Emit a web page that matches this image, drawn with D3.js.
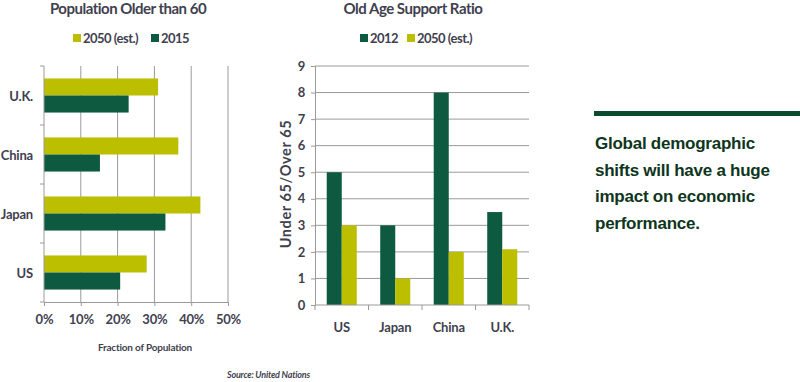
<!DOCTYPE html>
<html>
<head>
<meta charset="utf-8">
<script src="https://cdn.jsdelivr.net/npm/d3@7"></script>
<style>
	body { margin: 0; background: #fff; }
	svg text { font-family: Lato, 'Open Sans', sans-serif; fill: #3f3f4f; letter-spacing: -0.2px; }
</style>
</head>
<body>
<script>
// Data: population older than 60 (fraction)
const popCountries = ['U.K.', 'China', 'Japan', 'US']
const pop2050 = [0.31, 0.365, 0.425, 0.279]
const pop2015 = [0.23, 0.152, 0.33, 0.207]
const popTicks = [0, 0.1, 0.2, 0.3, 0.4, 0.5]

// Data: old age support ratio
const ratioCountries = ['US', 'Japan', 'China', 'U.K.']
const ratio2012 = [5, 3, 8, 3.5]
const ratio2050 = [3, 1, 2, 2.1]
const ratioTicks = [0, 1, 2, 3, 4, 5, 6, 7, 8, 9]

const dark = '#0e5a41'
const lime = '#bbbf00'
const grid = '#9a9a9a'

const svg = d3.select('body').append('svg').attr('width', 800).attr('height', 382)

// ---------- left chart ----------
const xPop = d3.scaleLinear().domain([0, 0.5]).range([44, 228])
const yPop = d3.scaleBand().domain(popCountries).range([66, 302])
const ySub = d3.scaleBand().domain(['2050', '2015']).range([0, yPop.bandwidth()]).paddingOuter(0.73)

const left = svg.append('g')

left.append('text').attr('x', 128).attr('y', 14).attr('text-anchor', 'middle')
	.style('font-size', '15px').style('font-weight', 'bold').style('letter-spacing', '-0.5px')
	.text('Population Older than 60')

// legend
const legL = [{ label: '2050 (est.)', color: lime, x: 73 }, { label: '2015', color: dark, x: 151 }]
legL.forEach(d => {
	left.append('rect').attr('x', d.x).attr('y', 34).attr('width', 8).attr('height', 8).attr('fill', d.color)
	left.append('text').attr('x', d.x + 10).attr('y', 43).style('font-size', '13px').style('font-weight', 'bold')
		.style('letter-spacing', '-0.5px').text(d.label)
})

// gridlines
left.selectAll('.vgrid').data(popTicks.slice(1)).join('line')
	.attr('x1', d => xPop(d)).attr('x2', d => xPop(d))
	.attr('y1', 66).attr('y2', 302).attr('stroke', grid)

const popData = popCountries.map((c, i) => ({ c, v2050: pop2050[i], v2015: pop2015[i] }))
left.selectAll('.b50').data(popData).join('rect')
	.attr('x', xPop(0)).attr('y', d => yPop(d.c) + ySub('2050'))
	.attr('width', d => xPop(d.v2050) - xPop(0)).attr('height', ySub.bandwidth())
	.attr('fill', lime)
left.selectAll('.b15').data(popData).join('rect')
	.attr('x', xPop(0)).attr('y', d => yPop(d.c) + ySub('2015'))
	.attr('width', d => xPop(d.v2015) - xPop(0)).attr('height', ySub.bandwidth())
	.attr('fill', dark)

// x axis
const xAxisL = left.append('g').attr('transform', 'translate(0,302)')
	.call(d3.axisBottom(xPop).tickValues(popTicks).tickFormat(d3.format('.0%')).tickSize(4).tickPadding(9))
xAxisL.selectAll('line,path').attr('stroke', grid)
xAxisL.selectAll('text').style('font-size', '13px').style('font-weight', 'bold').attr('fill', '#3f3f4f')

// y axis
const bounds = popCountries.map(c => yPop(c)).concat([302])
left.append('line').attr('x1', 44).attr('x2', 44).attr('y1', 66).attr('y2', 302).attr('stroke', grid)
left.selectAll('.ytk').data(bounds).join('line')
	.attr('x1', 40).attr('x2', 44).attr('y1', d => d).attr('y2', d => d).attr('stroke', grid)
left.selectAll('.ylab').data(popCountries).join('text')
	.attr('x', 33).attr('y', d => yPop(d) + yPop.bandwidth() / 2 + 1).attr('dy', '0.35em')
	.attr('text-anchor', 'end').style('font-size', '13px').style('font-weight', 'bold').text(d => d)

left.append('text').attr('x', 145).attr('y', 351).attr('text-anchor', 'middle')
	.style('font-size', '10px').style('font-weight', 'bold').text('Fraction of Population')

// ---------- right chart ----------
const xRat = d3.scaleBand().domain(ratioCountries).range([315, 529])
const xSub = d3.scaleBand().domain(['2012', '2050']).range([0, xRat.bandwidth()]).paddingOuter(0.78)
const yRat = d3.scaleLinear().domain([0, 9]).range([305, 66])

const right = svg.append('g')

right.append('text').attr('x', 413).attr('y', 14).attr('text-anchor', 'middle')
	.style('font-size', '15px').style('font-weight', 'bold').style('letter-spacing', '-0.5px')
	.text('Old Age Support Ratio')

const legR = [{ label: '2012', color: dark, x: 360 }, { label: '2050 (est.)', color: lime, x: 407 }]
legR.forEach(d => {
	right.append('rect').attr('x', d.x).attr('y', 34).attr('width', 8).attr('height', 8).attr('fill', d.color)
	right.append('text').attr('x', d.x + 10).attr('y', 43).style('font-size', '13px').style('font-weight', 'bold')
		.style('letter-spacing', '-0.5px').text(d.label)
})

right.selectAll('.hgrid').data(ratioTicks.slice(1)).join('line')
	.attr('x1', 315).attr('x2', 529)
	.attr('y1', d => yRat(d)).attr('y2', d => yRat(d)).attr('stroke', grid)

const ratData = ratioCountries.map((c, i) => ({ c, v2012: ratio2012[i], v2050: ratio2050[i] }))
right.selectAll('.r12').data(ratData).join('rect')
	.attr('x', d => xRat(d.c) + xSub('2012')).attr('y', d => yRat(d.v2012))
	.attr('width', xSub.bandwidth()).attr('height', d => yRat(0) - yRat(d.v2012))
	.attr('fill', dark)
right.selectAll('.r50').data(ratData).join('rect')
	.attr('x', d => xRat(d.c) + xSub('2050')).attr('y', d => yRat(d.v2050))
	.attr('width', xSub.bandwidth()).attr('height', d => yRat(0) - yRat(d.v2050))
	.attr('fill', lime)

const yAxisR = right.append('g').attr('transform', 'translate(315,0)')
	.call(d3.axisLeft(yRat).tickValues(ratioTicks).tickSize(4).tickPadding(6))
yAxisR.selectAll('line,path').attr('stroke', grid)
yAxisR.selectAll('text').style('font-size', '13px').style('font-weight', 'bold').attr('fill', '#3f3f4f')

const xb = ratioCountries.map(c => xRat(c)).concat([529])
right.append('line').attr('x1', 315).attr('x2', 529).attr('y1', 305).attr('y2', 305).attr('stroke', grid)
right.selectAll('.xtk').data(xb).join('line')
	.attr('x1', d => d).attr('x2', d => d).attr('y1', 305).attr('y2', 310).attr('stroke', grid)
right.selectAll('.xlab').data(ratioCountries).join('text')
	.attr('x', d => xRat(d) + xRat.bandwidth() / 2).attr('y', 332)
	.attr('text-anchor', 'middle').style('font-size', '13px').style('font-weight', 'bold').text(d => d)

right.append('text').attr('transform', 'translate(291,184) rotate(-90)').attr('text-anchor', 'middle')
	.style('font-size', '14.5px').style('font-weight', 'bold').style('letter-spacing', '0.6px')
	.text('Under 65/Over 65')

// ---------- side note ----------
svg.append('rect').attr('x', 594).attr('y', 111).attr('width', 206).attr('height', 5).attr('fill', '#0b4a2c')
const note = ['Global demographic', 'shifts will have a huge', 'impact on economic', 'performance.']
svg.selectAll('.note').data(note).join('text')
	.attr('x', 595).attr('y', (d, i) => 149 + i * 26.7)
	.style('font-family', "'Liberation Sans', Arial, sans-serif").style('font-size', '17px')
	.style('letter-spacing', '-0.25px')
	.style('font-weight', 'bold').style('fill', '#0d3520').text(d => d)

svg.append('text').attr('x', 227).attr('y', 378)
	.style('font-size', '9px').style('font-weight', 'bold').style('font-style', 'italic')
	.text('Source: United Nations')
</script>
</body>
</html>
